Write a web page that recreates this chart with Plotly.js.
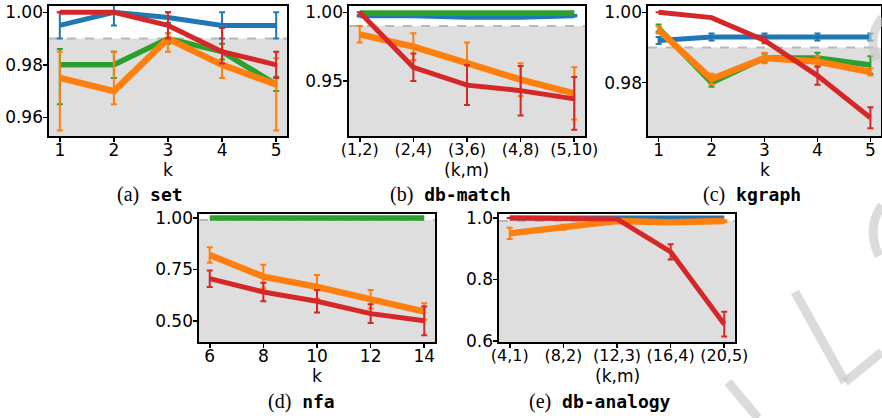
<!DOCTYPE html>
<html><head><meta charset="utf-8">
<script src="https://cdn.plot.ly/plotly-3.0.1.min.js"></script>
<style>body{margin:0;padding:0;background:#fff}#chart{width:882px;height:418px}</style>
</head><body><div id="chart"></div>
<script>
// ---------- data ----------
const kSet = [1, 2, 3, 4, 5];
const setBlue = [0.995, 1.0, 0.998, 0.995, 0.995];
const setBlueErr = [0.005, 0.005, 0.002, 0.005, 0.005];
const setGreen = [0.98, 0.98, 0.99, 0.985, 0.9725];
const setGreenErrPlus = [0.006, 0.005, 0.002, 0.003, 0.003];
const setGreenErrMinus = [0.015, 0.005, 0.002, 0.003, 0.0025];
const setOrange = [0.975, 0.97, 0.99, 0.98, 0.9725];
const setOrangeErrPlus = [0.01, 0.015, 0.002, 0.005, 0.01];
const setOrangeErrMinus = [0.02, 0.005, 0.005, 0.005, 0.0175];
const setRed = [1.0, 1.0, 0.995, 0.985, 0.98];
const setRedErrPlus = [0, 0, 0.005, 0.009, 0.005];
const setRedErrMinus = [0, 0, 0.005, 0.0045, 0.005];

const kmMatch = ['(1,2)', '(2,4)', '(3,6)', '(4,8)', '(5,10)'];
const matchBlue = [0.9975, 0.9975, 0.9965, 0.9965, 0.9975];
const matchBlueErr = [0.0005, 0.0005, 0.0005, 0.0005, 0.0005];
const matchGreen = [0.9995, 0.9995, 0.9995, 0.9995, 0.9995];
const matchOrange = [0.984, 0.975, 0.963, 0.951, 0.941];
const matchOrangeErr = [0.006, 0.0097, 0.015, 0.012, 0.019];
const matchRed = [1.0, 0.96, 0.947, 0.943, 0.937];
const matchRedErrPlus = [0, 0.01, 0.0145, 0.018, 0.016];
const matchRedErrMinus = [0, 0.01, 0.0145, 0.018, 0.0225];

const kKgraph = [1, 2, 3, 4, 5];
const kgBlue = [0.992, 0.993, 0.993, 0.993, 0.993];
const kgBlueErr = [0.001, 0.001, 0.001, 0.001, 0.001];
const kgGreen = [0.9955, 0.980, 0.987, 0.987, 0.985];
const kgGreenErr = [0.001, 0.0012, 0.0012, 0.0015, 0.0025];
const kgOrange = [0.995, 0.981, 0.987, 0.986, 0.983];
const kgOrangeErr = [0.001, 0.0015, 0.0015, 0.0015, 0.001];
const kgRed = [1.0, 0.9985, 0.992, 0.982, 0.970];
const kgRedErr = [0, 0, 0.0008, 0.0026, 0.003];

const kNfa = [6, 8, 10, 12, 14];
const nfaGreen = [1.0, 1.0, 1.0, 1.0, 1.0];
const nfaOrange = [0.82, 0.715, 0.665, 0.605, 0.545];
const nfaOrangeErr = [0.038, 0.058, 0.058, 0.045, 0.04];
const nfaRed = [0.705, 0.64, 0.595, 0.535, 0.50];
const nfaRedErr = [0.04, 0.045, 0.055, 0.045, 0.07];

const kmAnalogy = ['(4,1)', '(8,2)', '(12,3)', '(16,4)', '(20,5)'];
const anBlue = [1.0, 1.0, 1.0, 1.0, 1.0];
const anOrange = [0.95, 0.97, 0.99, 0.986, 0.99];
const anOrangeErr = [0.018, 0.008, 0.003, 0.003, 0.003];
const anRed = [1.0, 1.0, 0.997, 0.89, 0.655];
const anRedErr = [0, 0, 0.003, 0.025, 0.04];

const threshold = 0.99;
const captions = [
  {tag: '(a)', name: 'set'}, {tag: '(b)', name: 'db-match'}, {tag: '(c)', name: 'kgraph'},
  {tag: '(d)', name: 'nfa'}, {tag: '(e)', name: 'db-analogy'}
];
const xTitles = ['k', '(k,m)', 'k', 'k', '(k,m)'];

// ---------- styles ----------
const C = {blue: '#1f77b4', orange: '#ff7f0e', green: '#2ca02c', red: '#d62728'};
const W = {blue: 5, green: 5.5, orange: 6.5, red: 5};
const W_PX = 882, H_PX = 418;
const px = x => x / W_PX;
const py = y => 1 - y / H_PX;

function tr(xa, ya, x, y, color, eplus, eminus) {
  const t = {x: x, y: y, xaxis: xa, yaxis: ya, type: 'scatter', mode: 'lines',
    line: {color: C[color], width: W[color]}, showlegend: false, hoverinfo: 'skip'};
  if (eplus) {
    t.error_y = {type: 'data', symmetric: !eminus, array: eplus, arrayminus: eminus || eplus,
      color: C[color], thickness: 2, width: 3};
  }
  return t;
}

const data = [
  tr('x', 'y', kSet, setBlue, 'blue', setBlueErr),
  tr('x', 'y', kSet, setGreen, 'green', setGreenErrPlus, setGreenErrMinus),
  tr('x', 'y', kSet, setOrange, 'orange', setOrangeErrPlus, setOrangeErrMinus),
  tr('x', 'y', kSet, setRed, 'red', setRedErrPlus, setRedErrMinus),

  tr('x2', 'y2', kmMatch, matchBlue, 'blue', matchBlueErr),
  tr('x2', 'y2', kmMatch, matchGreen, 'green'),
  tr('x2', 'y2', kmMatch, matchOrange, 'orange', matchOrangeErr),
  tr('x2', 'y2', kmMatch, matchRed, 'red', matchRedErrPlus, matchRedErrMinus),

  tr('x3', 'y3', kKgraph, kgBlue, 'blue', kgBlueErr),
  tr('x3', 'y3', kKgraph, kgGreen, 'green', kgGreenErr),
  tr('x3', 'y3', kKgraph, kgOrange, 'orange', kgOrangeErr),
  tr('x3', 'y3', kKgraph, kgRed, 'red', kgRedErr),

  tr('x4', 'y4', kNfa, nfaGreen, 'green'),
  tr('x4', 'y4', kNfa, nfaOrange, 'orange', nfaOrangeErr),
  tr('x4', 'y4', kNfa, nfaRed, 'red', nfaRedErr),

  tr('x5', 'y5', kmAnalogy, anBlue, 'blue'),
  tr('x5', 'y5', kmAnalogy, anOrange, 'orange', anOrangeErr),
  tr('x5', 'y5', kmAnalogy, anRed, 'red', anRedErr)
];

// panel geometry in pixels: [left, right, top, bottom]
const panels = [
  {box: [49, 287, 6, 136], xr: [0.8, 5.2], yr: [0.9529, 1.0024], yt: [0.96, 0.98, 1.00], fmt: '.2f', cap: 150, tx: 168, ty: 170},
  {box: [349, 585, 6, 136], xr: [-0.2, 4.2], yr: [0.910, 1.0046], yt: [0.95, 1.00], fmt: '.2f', cap: 450, cat: kmMatch, tx: 467, ty: 170},
  {box: [648, 881, 6, 136], xr: [0.8, 5.2], yr: [0.9648, 1.0018], yt: [0.98, 1.00], fmt: '.2f', cap: 752, tx: 765, ty: 170},
  {box: [199, 435, 214, 342], xr: [5.6, 14.4], yr: [0.397, 1.0195], yt: [0.50, 0.75, 1.00], fmt: '.2f', cap: 301, tx: 317, ty: 376},
  {box: [499, 735, 214, 342], xr: [-0.2, 4.2], yr: [0.597, 1.013], yt: [0.6, 0.8, 1.0], fmt: '.1f', cap: 600, cat: kmAnalogy, tx: 617, ty: 376}
];

const layout = {
  width: W_PX, height: H_PX, autosize: false,
  margin: {l: 0, r: 0, t: 0, b: 0, pad: 0},
  paper_bgcolor: '#ffffff', plot_bgcolor: '#ffffff',
  font: {family: 'DejaVu Sans', color: '#000000', size: 17},
  showlegend: false, shapes: [], annotations: []
};

panels.forEach((p, i) => {
  const n = i === 0 ? '' : String(i + 1);
  const [l, r, t, b] = p.box;
  const common = {showline: true, mirror: true, linecolor: '#000', linewidth: 1.6,
    ticks: 'outside', ticklen: 4, tickwidth: 1.6, tickcolor: '#000',
    showgrid: false, zeroline: false, fixedrange: true, automargin: false};
  const xa = Object.assign({}, common, {domain: [px(l), px(r)], range: p.xr, anchor: 'y' + n,
    tickfont: {size: p.cat ? 16 : 17}, ticklabelstandoff: -6});
  if (p.cat) { xa.type = 'category'; } else { xa.tickvals = i === 3 ? kNfa : kSet; }
  const ya = Object.assign({}, common, {domain: [py(b), py(t)], range: p.yr, anchor: 'x' + n,
    tickvals: p.yt, tickformat: p.fmt, tickfont: {size: 17}, ticklabelstandoff: -3});
  layout['xaxis' + n] = xa;
  layout['yaxis' + n] = ya;
  layout.shapes.push({type: 'rect', layer: 'below', xref: 'x' + n + ' domain', yref: 'y' + n,
    x0: 0, x1: 1, y0: p.yr[0], y1: threshold, fillcolor: '#dedede', line: {width: 0}});
  layout.shapes.push({type: 'line', layer: 'below', xref: 'x' + n + ' domain', yref: 'y' + n,
    x0: 0, x1: 1, y0: threshold, y1: threshold, line: {color: '#b8b8b8', width: 2, dash: 'dash'}});
  // x-axis title
  layout.annotations.push({xref: 'paper', yref: 'paper', x: px(p.tx), y: py(p.ty),
    xanchor: 'center', yanchor: 'middle', showarrow: false, text: xTitles[i],
    font: {family: 'DejaVu Sans', size: 17, color: '#000'}});
  // caption
  layout.annotations.push({xref: 'paper', yref: 'paper', x: px(p.cap), y: py(b + 59),
    xanchor: 'center', yanchor: 'middle', showarrow: false,
    text: '<span style="font-family:\'Liberation Serif\';font-size:20px">' + captions[i].tag + '</span> <b>' + captions[i].name + '</b>',
    font: {family: 'DejaVu Sans Mono', size: 18, color: '#000'}});
});

// faint watermark strokes
const wm = [
  'M ' + px(795) + ' ' + py(292) + ' L ' + px(845) + ' ' + py(382),
  'M ' + px(845) + ' ' + py(382) + ' L ' + px(882) + ' ' + py(352),
  'M ' + px(728) + ' ' + py(382) + ' L ' + px(758) + ' ' + py(418),
  'M ' + px(882) + ' ' + py(205) + ' Q ' + px(866) + ' ' + py(228) + ' ' + px(879) + ' ' + py(256),
  'M ' + px(882) + ' ' + py(18) + ' Q ' + px(867) + ' ' + py(36) + ' ' + px(877) + ' ' + py(60)
];
wm.forEach(d => layout.shapes.push({type: 'path', xref: 'paper', yref: 'paper', path: d, layer: 'above',
  line: {color: 'rgba(200,200,200,0.65)', width: 9}}));

Plotly.newPlot('chart', data, layout, {staticPlot: true, displayModeBar: false});
</script></body></html>
